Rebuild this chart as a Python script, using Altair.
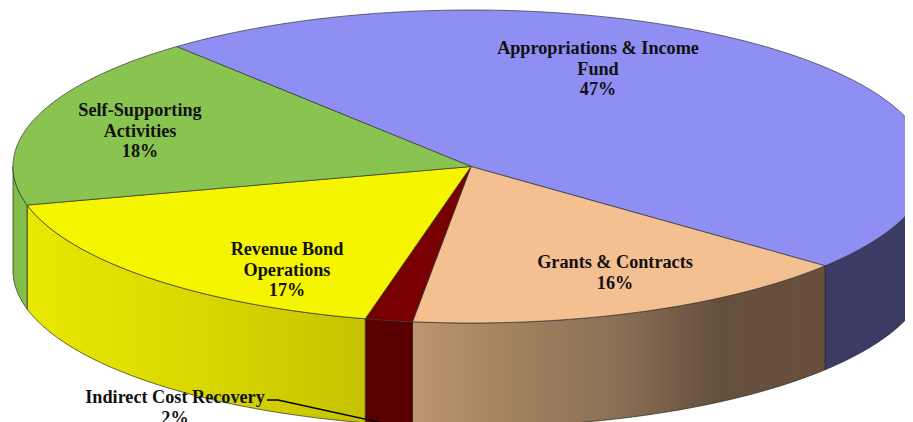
import math
import altair as alt

# ---- data
names = ["Appropriations & Income Fund", "Grants & Contracts", "Indirect Cost Recovery",
         "Revenue Bond Operations", "Self-Supporting Activities"]
shares = [47.05, 16.1, 1.67, 17.33, 17.85]
top_colors = ["#8F8FF3", "#F4BF91", "#780000", "#F5F500", "#88C44F"]
label_texts = ["Appropriations & Income\nFund\n47%", "Grants & Contracts\n16%",
               "Indirect Cost Recovery\n2%", "Revenue Bond\nOperations\n17%",
               "Self-Supporting\nActivities\n18%"]
title_text = "Operating Expenses"

# ---- layout of the tilted disc, in chart pixels
OX, OY = -8, -8            # page margin
CX, CY = 471 + OX, 166.5 + OY
RX, RY = 458, 156.5
DEPTH = 104
START = -40
label_pos = [(598, 49), (615, 263), (175, 398), (287, 250), (140, 111)]
leader_path = [(267, 400), (278, 400), (392, 425)]
title_pos = (529, 1)

wall_stops = [
    [(0, "#3C3B66"), (1, "#3C3B66")],
    [(0, "#BC9670"), (0.2, "#A68560"), (0.5, "#8A6F55"), (0.74, "#65503E"), (1, "#6A4E3C")],
    [(0, "#5B0000"), (1, "#5B0000")],
    [(0, "#E8E800"), (0.5, "#DAD800"), (1, "#C6C200")],
    [(0, "#80BA48"), (1, "#86C04C")],
]


def pt(t, dy=0.0):
    a = math.radians(t)
    return [CX + RX * math.sin(a), CY - RY * math.cos(a) + dy]


def arc(t0, t1, dy=0.0):
    n = max(2, int(abs(t1 - t0)) + 1)
    return [pt(t0 + (t1 - t0) * i / n, dy) for i in range(n + 1)]


def feature(coords, name):
    return {"type": "Feature", "properties": {"name": name},
            "geometry": {"type": "Polygon", "coordinates": [coords + [coords[0]]]}}


wedges, walls = [], []
t = START
for name, share in zip(names, shares):
    t1 = t + share * 3.6
    wedges.append(feature([[CX, CY]] + arc(t, t1), name))
    a, b = max(t, 90), min(t1, 270)
    if a < b:
        walls.append((name, feature(arc(a, b) + arc(b, a, DEPTH), name)))
    t = t1

proj = alt.Projection(type="identity", scale=1, translate=[0, 0])
layers = []

# title sits behind the disc
layers.append(
    alt.Chart(alt.Data(values=[{"t": title_text, "x": title_pos[0] + OX, "y": title_pos[1] + OY}]))
    .mark_text(font="Liberation Serif", fontWeight="bold", fontSize=31, baseline="alphabetic",
               align="center", color="black")
    .encode(longitude="x:Q", latitude="y:Q", text="t:N")
)

for name, f in walls:
    stops = wall_stops[names.index(name)]
    layers.append(
        alt.Chart(alt.Data(values=[f])).mark_geoshape(
            fill=alt.Gradient(gradient="linear", x1=0, x2=1, y1=0, y2=0,
                              stops=[alt.GradientStop(offset=o, color=c) for o, c in stops]),
            stroke="#2A2A20", strokeWidth=0.7,
        )
    )

layers.append(
    alt.Chart(alt.Data(values=wedges)).mark_geoshape(stroke="#333333", strokeWidth=0.7).encode(
        color=alt.Color("properties.name:N", scale=alt.Scale(domain=names, range=top_colors), legend=None)
    )
)

layers.append(
    alt.Chart(alt.Data(values=[{"type": "Feature", "properties": {},
                                "geometry": {"type": "LineString",
                                             "coordinates": [[x + OX, y + OY] for x, y in leader_path]}}]))
    .mark_geoshape(filled=False, stroke="black", strokeWidth=1.4)
)

layers.append(
    alt.Chart(alt.Data(values=[{"t": s, "x": p[0] + OX, "y": p[1] + OY} for s, p in zip(label_texts, label_pos)]))
    .mark_text(font="Liberation Serif", fontWeight="bold", fontSize=18.2, lineHeight=20.5, lineBreak="\n",
               align="center", baseline="middle", color="#111111")
    .encode(longitude="x:Q", latitude="y:Q", text="t:N")
)

chart = (
    alt.layer(*layers)
    .properties(width=897, height=414, padding=0, autosize=alt.AutoSizeParams(type="none"),
                projection=proj)
    .configure_view(stroke=None)
)
chart.save("out.html", embed_options={"renderer": "svg", "actions": False})
